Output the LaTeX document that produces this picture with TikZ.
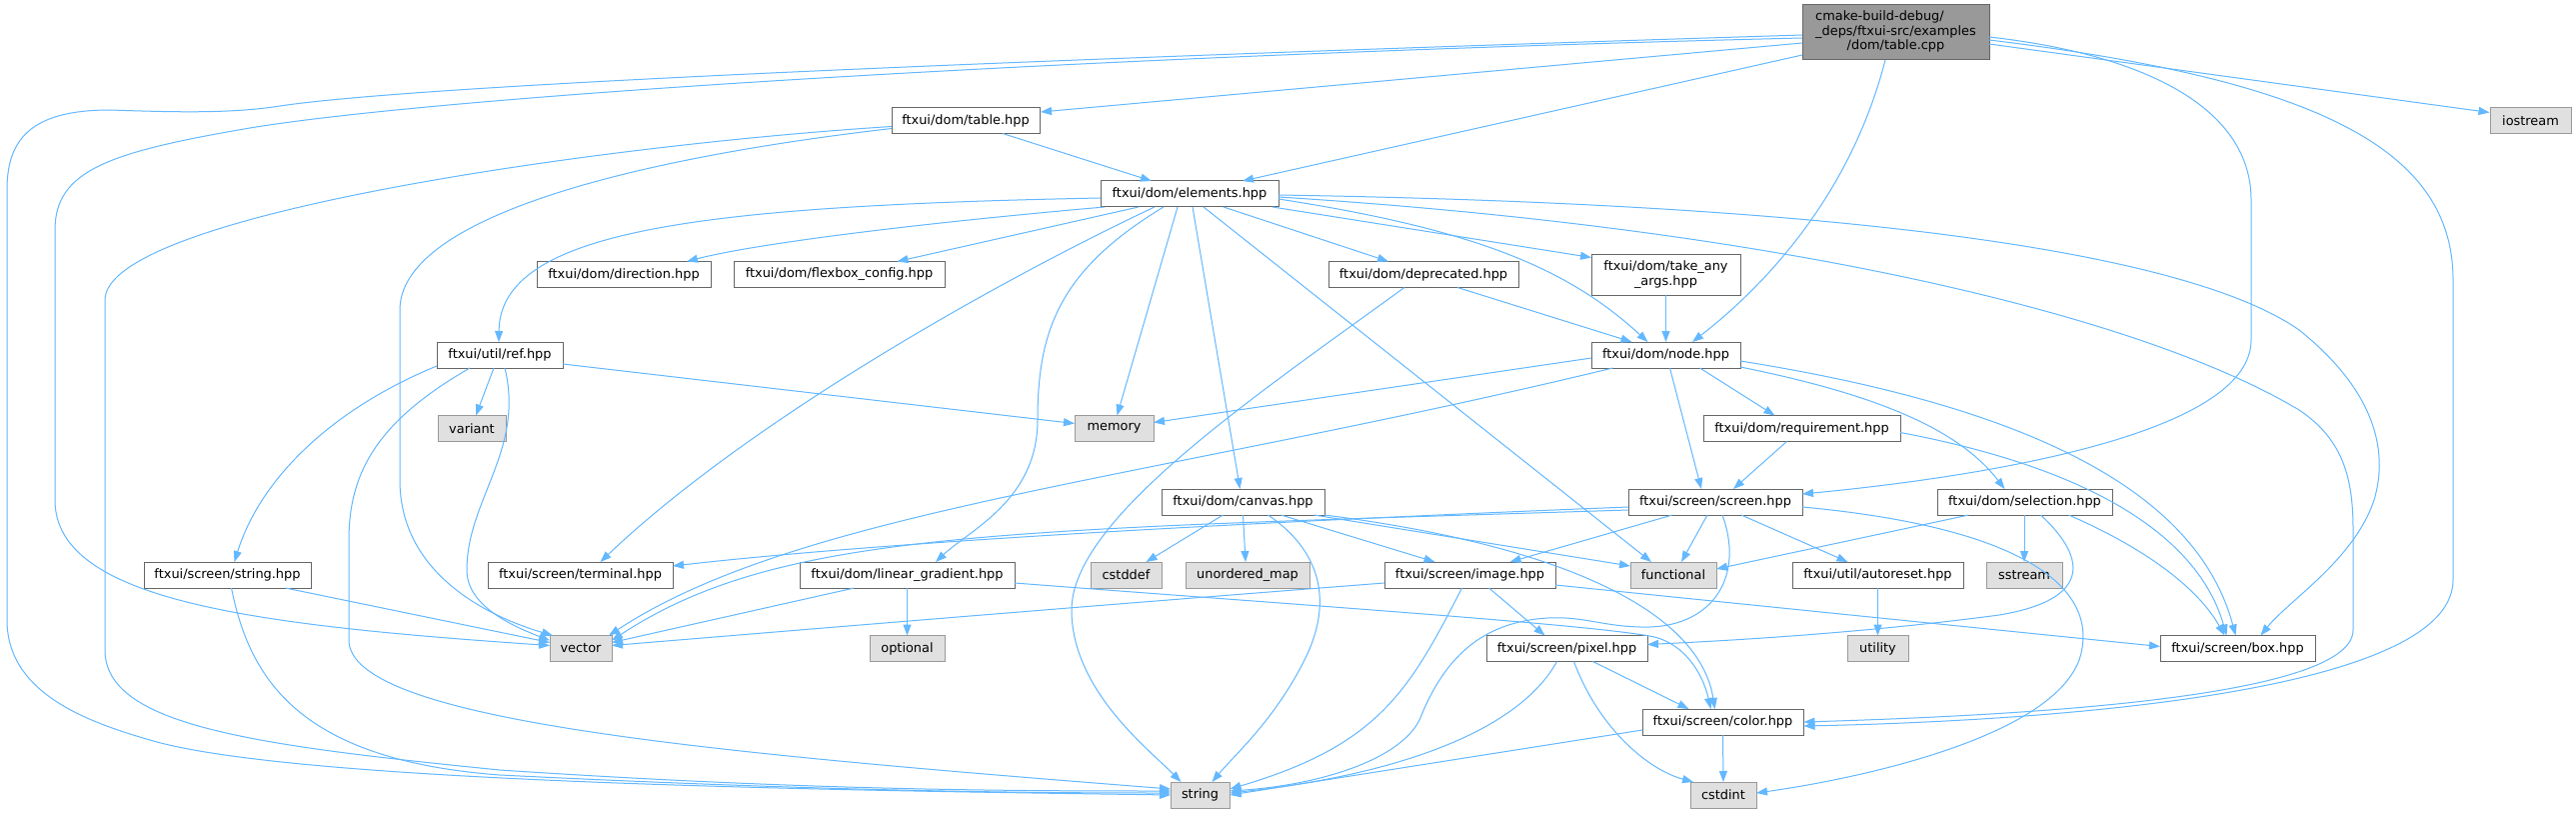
\documentclass[tikz,border=0pt]{standalone}
\usepackage{fontspec}
\newfontfamily\dvs{DejaVu Sans}
\usetikzlibrary{arrows.meta,calc}
\definecolor{edgec}{HTML}{63B8FF}
\definecolor{ndborder}{HTML}{666666}
\definecolor{extfill}{HTML}{E0E0E0}
\definecolor{extborder}{HTML}{999999}
\definecolor{rootfill}{HTML}{999999}
\begin{document}
\begin{tikzpicture}[x=1pt,y=-1pt,
  nd/.style={draw=ndborder, fill=white, line width=1pt, minimum height=26pt, inner xsep=0pt, inner ysep=0pt, font={\dvs\fontsize{12.9}{14.5}\selectfont}, align=center},
  ext/.style={nd, fill=extfill, draw=extborder},
  rootnd/.style={nd, fill=rootfill},
  e/.style={draw=edgec, line width=1pt, -{Triangle[length=11pt,width=8pt]}}]
\useasboundingbox[fill=white] (0,0) rectangle (2577,813);
% nodes
\node[rootnd, minimum width=187pt, minimum height=55pt] (cpp) at (1896.5,32.5) {\begin{tabular}{@{}l@{}}cmake-build-debug/\\\_deps/ftxui-src/examples\\\multicolumn{1}{@{}c@{}}{/dom/table.cpp}\end{tabular}};
\node[ext, minimum width=81pt] (iostream) at (2531.5,120.5) {iostream};
\node[nd, minimum width=148pt] (table) at (966,120.5) {ftxui/dom/table.hpp};
\node[nd, minimum width=178pt] (elements) at (1190,194) {ftxui/dom/elements.hpp};
\node[nd, minimum width=174pt] (direction) at (624,274.5) {ftxui/dom/direction.hpp};
\node[nd, minimum width=211pt] (flexbox) at (839.5,274.5) {ftxui/dom/flexbox\_config.hpp};
\node[nd, minimum width=190pt] (deprecated) at (1424,274.5) {ftxui/dom/deprecated.hpp};
\node[nd, minimum width=149pt, minimum height=41pt] (takeany) at (1666.5,274.5) {ftxui/dom/take\_any\\\_args.hpp};
\node[nd, minimum width=126pt] (ref) at (500,355) {ftxui/util/ref.hpp};
\node[nd, minimum width=149pt] (node) at (1666.5,355) {ftxui/dom/node.hpp};
\node[ext, minimum width=68pt] (variant) at (472,428.5) {variant};
\node[ext, minimum width=79pt] (memory) at (1114.5,428.5) {memory};
\node[nd, minimum width=197pt] (requirement) at (1802.5,428.5) {ftxui/dom/requirement.hpp};
\node[nd, minimum width=163pt] (canvas) at (1243.5,502) {ftxui/dom/canvas.hpp};
\node[nd, minimum width=174pt] (screen) at (1716,502) {ftxui/screen/screen.hpp};
\node[nd, minimum width=175pt] (selection) at (2025.5,502) {ftxui/dom/selection.hpp};
\node[nd, minimum width=167pt] (stringhpp) at (227.5,575) {ftxui/screen/string.hpp};
\node[nd, minimum width=185pt] (terminal) at (580.5,575) {ftxui/screen/terminal.hpp};
\node[nd, minimum width=215pt] (lingrad) at (907.5,575) {ftxui/dom/linear\_gradient.hpp};
\node[ext, minimum width=71pt] (cstddef) at (1126.5,575) {cstddef};
\node[ext, minimum width=124pt] (umap) at (1248,575) {unordered\_map};
\node[nd, minimum width=171pt] (image) at (1470.5,575) {ftxui/screen/image.hpp};
\node[ext, minimum width=86pt] (functional) at (1674,575) {functional};
\node[nd, minimum width=171pt] (autoreset) at (1878.5,575) {ftxui/util/autoreset.hpp};
\node[ext, minimum width=76pt] (sstream) at (2025,575) {sstream};
\node[ext, minimum width=62pt] (vector) at (581,648.5) {vector};
\node[ext, minimum width=75pt] (optional) at (907.5,648.5) {optional};
\node[nd, minimum width=161pt] (pixel) at (1567.5,648.5) {ftxui/screen/pixel.hpp};
\node[ext, minimum width=61pt] (utility) at (1878.5,648.5) {utility};
\node[nd, minimum width=155pt] (box) at (2238.5,648.5) {ftxui/screen/box.hpp};
\node[nd, minimum width=161pt] (color) at (1723.5,722) {ftxui/screen/color.hpp};
\node[ext, minimum width=59pt] (string) at (1200.5,795) {string};
\node[ext, minimum width=66pt] (cstdint) at (1724,795) {cstdint};
% edges from cpp
\draw[e] ($(cpp)+(-93.5,10.5)$) -- ($(table)+(75,-8.5)$);
\draw[e] ($(cpp)+(-93.5,22.5)$) -- ($(elements)+(53,-13)$);
\draw[e] ($(cpp)+(-93.5,2.5)$) .. controls (1000,60) and (420,85) .. (280,106) .. controls (230,114) and (170,112) .. (110,110) .. controls (30,110) and (7,140) .. (7,190) -- (7,620) .. controls (7,690) and (80,720) .. (150,740) .. controls (300,785) and (900,791) .. ($(string)+(-29.5,0)$);
\draw[e] ($(cpp)+(-93.5,5.5)$) .. controls (1100,55) and (450,95) .. (250,128) .. controls (110,152) and (55,170) .. (55,230) -- (55,500) .. controls (55,600) and (250,625) .. ($(vector)+(-31,-3)$);
\draw[e] ($(cpp)+(-10.5,27.5)$) .. controls (1850,200) and (1760,290) .. ($(node)+(26.5,-13)$);
\draw[e] ($(cpp)+(93.5,4.5)$) .. controls (2150,55) and (2252,110) .. (2252,200) -- (2252,340) .. controls (2252,440) and (1950,480) .. ($(screen)+(87,-8)$);
\draw[e] ($(cpp)+(93.5,7.5)$) .. controls (2320,80) and (2454,150) .. (2454,280) -- (2454,580) .. controls (2454,700) and (2000,722) .. ($(color)+(81,4)$);
\draw[e] ($(cpp)+(93.5,11.5)$) -- ($(iostream)+(-41,-8)$);
% table
\draw[e] ($(table)+(37,13)$) -- ($(elements)+(-38,-13)$);
\draw[e] ($(table)+(-74,6)$) .. controls (600,145) and (105,215) .. (105,300) -- (105,650) .. controls (105,725) and (250,745) .. (500,770) .. controls (800,790) and (1000,791) .. ($(string)+(-29.5,-4)$);
\draw[e] ($(table)+(-74,8)$) .. controls (620,160) and (400,220) .. (400,310) -- (400,480) .. controls (400,580) and (500,620) .. ($(vector)+(-28,-13)$);
% elements
\draw[e] ($(elements)+(-89,4)$) .. controls (700,206) and (500,230) .. ($(ref)+(-1,-13)$);
\draw[e] ($(elements)+(-85,13)$) .. controls (900,225) and (750,245) .. ($(direction)+(63,-13)$);
\draw[e] ($(elements)+(-51,13)$) -- ($(flexbox)+(58,-13)$);
\draw[e] ($(elements)+(-35,13)$) .. controls (1000,280) and (750,420) .. ($(terminal)+(20,-13)$);
\draw[e] ($(elements)+(-26,13)$) .. controls (1060,270) and (1038,330) .. (1038,420) .. controls (1038,500) and (970,530) .. ($(lingrad)+(28.5,-13)$);
\draw[e] ($(elements)+(-12,13)$) -- ($(memory)+(3,-13)$);
\draw[e] ($(elements)+(3,13)$) -- ($(canvas)+(-3,-13)$);
\draw[e] ($(elements)+(14,13)$) -- ($(functional)+(-22,-13)$);
\draw[e] ($(elements)+(34,13)$) -- ($(deprecated)+(-35,-13)$);
\draw[e] ($(elements)+(83,13)$) -- ($(takeany)+(-74.5,-17)$);
\draw[e] ($(elements)+(89,5)$) .. controls (1480,230) and (1570,270) .. ($(node)+(-18,-13)$);
\draw[e] ($(elements)+(89,1)$) .. controls (1900,205) and (2200,260) .. (2300,330) .. controls (2375,390) and (2390,450) .. (2375,500) .. controls (2355,560) and (2290,600) .. ($(box)+(23,-13)$);
\draw[e] ($(elements)+(89,3)$) .. controls (1800,230) and (2150,320) .. (2300,410) .. controls (2345,440) and (2354,480) .. (2354,530) -- (2354,630) .. controls (2354,700) and (2000,716) .. ($(color)+(81,0)$);
% take_any, deprecated
\draw[e] ($(takeany)+(0,20.5)$) -- ($(node)+(0,-13)$);
\draw[e] ($(deprecated)+(34,13)$) -- ($(node)+(-34,-13)$);
\draw[e] ($(deprecated)+(-19,13)$) .. controls (1250,400) and (1072,520) .. (1072,610) .. controls (1072,690) and (1150,750) .. ($(string)+(-19,-13)$);
% ref
\draw[e] ($(ref)+(63,9)$) -- ($(memory)+(-39.5,-5)$);
\draw[e] ($(ref)+(-6,13)$) -- ($(variant)+(4,-13)$);
\draw[e] ($(ref)+(-63,11)$) .. controls (330,410) and (260,480) .. ($(stringhpp)+(7,-13)$);
\draw[e] ($(ref)+(-30,13)$) .. controls (380,420) and (349,470) .. (349,540) -- (349,640) .. controls (349,720) and (700,752) .. ($(string)+(-29.5,-6)$);
\draw[e] ($(ref)+(5,13)$) .. controls (525,450) and (467,500) .. (467,570) .. controls (467,605) and (510,625) .. ($(vector)+(-31,-8)$);
% node
\draw[e] ($(node)+(-74.5,3)$) -- ($(memory)+(39.5,-6)$);
\draw[e] ($(node)+(-53,13)$) .. controls (1150,480) and (800,510) .. ($(vector)+(28,-13)$);
\draw[e] ($(node)+(4,13)$) -- ($(screen)+(-14,-13)$);
\draw[e] ($(node)+(34,13)$) -- ($(requirement)+(-27,-13)$);
\draw[e] ($(node)+(74.5,12)$) .. controls (1880,395) and (1960,430) .. ($(selection)+(-20,-13)$);
\draw[e] ($(node)+(74.5,6)$) .. controls (2050,410) and (2200,500) .. ($(box)+(-2,-13)$);
% requirement
\draw[e] ($(requirement)+(-15,13)$) -- ($(screen)+(18,-13)$);
\draw[e] ($(requirement)+(98.5,4)$) .. controls (2100,470) and (2200,540) .. ($(box)+(-11,-13)$);
% canvas
\draw[e] ($(canvas)+(-20,13)$) -- ($(cstddef)+(20,-13)$);
\draw[e] ($(canvas)+(0,13)$) -- ($(umap)+(-2,-13)$);
\draw[e] ($(canvas)+(25,13)$) .. controls (1320,550) and (1335,600) .. (1305,660) .. controls (1275,720) and (1235,755) .. ($(string)+(12,-13)$);
\draw[e] ($(canvas)+(38,13)$) -- ($(image)+(-35,-13)$);
\draw[e] ($(canvas)+(71,13)$) -- ($(functional)+(-43,-9)$);
\draw[e] ($(canvas)+(81.5,13)$) .. controls (1560,545) and (1700,610) .. ($(color)+(-8,-13)$);
% screen
\draw[e] ($(screen)+(-87,5)$) .. controls (1300,520) and (900,540) .. ($(terminal)+(92.5,-9)$);
\draw[e] ($(screen)+(-87,8)$) .. controls (1000,530) and (780,530) .. ($(vector)+(31,-8)$);
\draw[e] ($(screen)+(-43,13)$) -- ($(image)+(40,-13)$);
\draw[e] ($(screen)+(-8,13)$) -- ($(functional)+(8,-13)$);
\draw[e] ($(screen)+(7,13)$) .. controls (1745,575) and (1715,625) .. (1650,627) .. controls (1600,628) and (1580,612) .. (1530,620) .. controls (1470,630) and (1440,670) .. (1420,720) .. controls (1400,760) and (1320,785) .. ($(string)+(30,-4)$);
\draw[e] ($(screen)+(26,13)$) -- ($(autoreset)+(-30,-13)$);
\draw[e] ($(screen)+(87,5)$) .. controls (2050,530) and (2100,600) .. (2080,660) .. controls (2050,740) and (1850,780) .. ($(cstdint)+(33,-2)$);
% selection
\draw[e] ($(selection)+(-56,13)$) -- ($(functional)+(43,-6)$);
\draw[e] ($(selection)+(-0.5,13)$) -- ($(sstream)+(0,-13)$);
\draw[e] ($(selection)+(44,13)$) .. controls (2150,550) and (2200,590) .. ($(box)+(-13,-13)$);
\draw[e] ($(selection)+(16,13)$) .. controls (2090,560) and (2090,600) .. (2000,615) .. controls (1850,635) and (1700,642) .. ($(pixel)+(80.5,-4)$);
% string.hpp
\draw[e] ($(stringhpp)+(58,13)$) -- ($(vector)+(-31,-6)$);
\draw[e] ($(stringhpp)+(4,13)$) .. controls (250,680) and (300,760) .. (500,775) .. controls (800,790) and (1000,793) .. ($(string)+(-29.5,-2)$);
% linear gradient
\draw[e] ($(lingrad)+(0,13)$) -- ($(optional)+(0,-13)$);
\draw[e] ($(lingrad)+(-53,13)$) -- ($(vector)+(31,-6)$);
\draw[e] ($(lingrad)+(107.5,8)$) .. controls (1300,605) and (1600,625) .. (1655,637) .. controls (1690,646) and (1705,680) .. ($(color)+(-12,-13)$);
% image
\draw[e] ($(image)+(-85.5,8)$) .. controls (1100,605) and (800,630) .. ($(vector)+(31,-3)$);
\draw[e] ($(image)+(-8,13)$) .. controls (1410,690) and (1380,745) .. ($(string)+(30,-6)$);
\draw[e] ($(image)+(19,13)$) -- ($(pixel)+(-22,-13)$);
\draw[e] ($(image)+(85.5,10)$) -- ($(box)+(-77.5,-2)$);
% autoreset
\draw[e] ($(autoreset)+(0,13)$) -- ($(utility)+(0,-13)$);
% pixel
\draw[e] ($(pixel)+(-10,13)$) .. controls (1520,730) and (1400,775) .. ($(string)+(30,-2)$);
\draw[e] ($(pixel)+(7,13)$) .. controls (1600,730) and (1650,770) .. ($(cstdint)+(-30,-13)$);
\draw[e] ($(pixel)+(26,13)$) -- ($(color)+(-34,-13)$);
% color
\draw[e] ($(color)+(0,13)$) -- ($(cstdint)+(0,-13)$);
\draw[e] ($(color)+(-80.5,8)$) -- ($(string)+(30,0)$);
\end{tikzpicture}
\end{document}
